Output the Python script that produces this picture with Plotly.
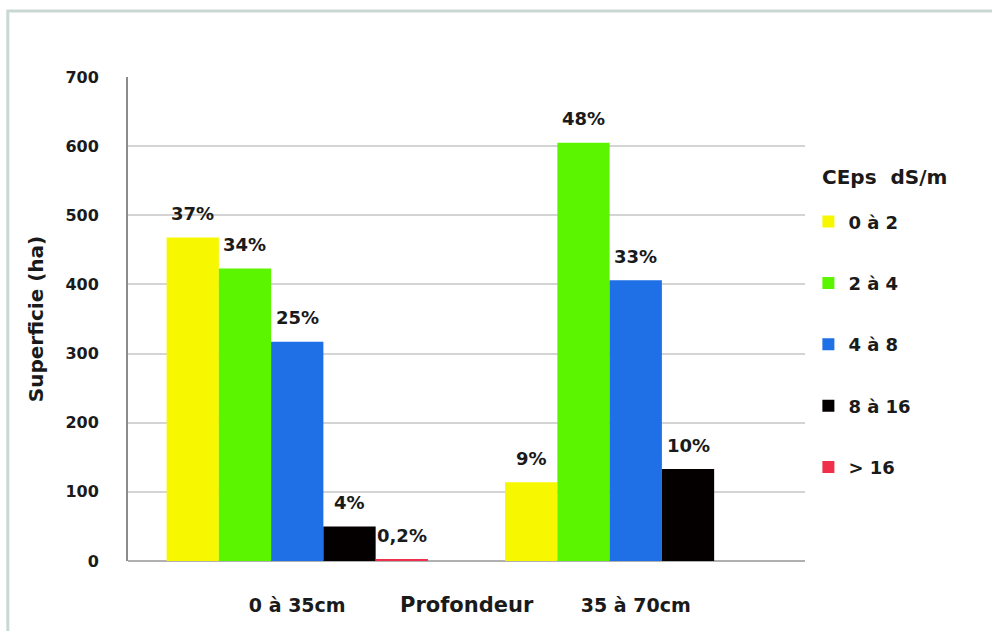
import plotly.graph_objects as go

# Depth classes and conductivity classes
profondeurs = ["0 à 35cm", "35 à 70cm"]
classes = ["0 à 2", "2 à 4", "4 à 8", "8 à 16", "> 16"]
couleurs = ["#f7f700", "#5cf500", "#1f6fe6", "#050000", "#f0304a"]

# Area (ha) per class for each depth
sup_0_2 = [468, 114]
sup_2_4 = [423, 605]
sup_4_8 = [317, 406]
sup_8_16 = [50, 133]
sup_16 = [2.5, 0]
surfaces = [sup_0_2, sup_2_4, sup_4_8, sup_8_16, sup_16]

# Share of total area per class for each depth
pct_0_2 = ["37%", "9%"]
pct_2_4 = ["34%", "48%"]
pct_4_8 = ["25%", "33%"]
pct_8_16 = ["4%", "10%"]
pct_16 = ["0,2%", ""]
parts = [pct_0_2, pct_2_4, pct_4_8, pct_8_16, pct_16]

FONT = "DejaVu Sans"
INK = "#1a1a1a"
BARGAP = 0.228

fig = go.Figure()
for nom, col, ys in zip(classes, couleurs, surfaces):
    fig.add_trace(go.Bar(
        x=profondeurs, y=ys, name=nom, legendgroup=nom,
        marker=dict(color=col, line=dict(width=0)),
        hoverinfo="x+y+name",
    ))

# Percentage labels above each bar, placed at the bar's slot within its group
n = len(classes)
slot = (1 - BARGAP) / n
labels = []
for i, (ys, txt) in enumerate(zip(surfaces, parts)):
    for ci, (v, t) in enumerate(zip(ys, txt)):
        if not t:
            continue
        labels.append(dict(
            text=t, x=ci - (1 - BARGAP) / 2 + (i + 0.5) * slot, y=v,
            xref="x", yref="y", showarrow=False, yanchor="middle", yshift=24,
            font=dict(family=FONT, size=18, color=INK, weight="bold"),
        ))

# Axis title written between the two depth labels
labels.append(dict(
    text="Profondeur", xref="paper", yref="paper", x=0.5, y=0,
    yshift=-44, xanchor="center", yanchor="middle", showarrow=False,
    font=dict(family=FONT, size=21, color=INK, weight="bold"),
))

# Legend heading
labels.append(dict(
    text="CEps  dS/m", xref="paper", yref="paper", x=1.0, y=1,
    xshift=691 - 676, yshift=-100, xanchor="left", yanchor="middle", showarrow=False,
    font=dict(family=FONT, size=20, color=INK, weight="bold"),
))

fig.update_layout(
    width=992, height=631,
    margin=dict(l=128, r=187, t=77, b=70),
    paper_bgcolor="white", plot_bgcolor="white",
    barmode="group", bargap=BARGAP, bargroupgap=0,
    showlegend=True,
    legend=dict(
        x=1.005, y=0.739, xanchor="left", yanchor="top",
        font=dict(family=FONT, size=18, color=INK, weight="bold"),
        tracegroupgap=35, itemwidth=30, bgcolor="rgba(0,0,0,0)",
    ),
    xaxis=dict(
        showgrid=False, showline=False, ticks="",
        tickfont=dict(family=FONT, size=19, color=INK, weight="bold"),
        ticklabelstandoff=31,
    ),
    yaxis=dict(
        range=[0, 700], dtick=100, showgrid=True, gridcolor="#d4d4d4", gridwidth=2,
        showline=True, linecolor="#8c8c8c", linewidth=2, zeroline=True,
        zerolinecolor="#b0b0b0", zerolinewidth=2,
        tickfont=dict(family=FONT, size=16, color=INK, weight="bold"),
        ticklabelstandoff=24,
        title=dict(text="Superficie (ha)", standoff=16,
                   font=dict(family=FONT, size=20, color=INK, weight="bold")),
    ),
    annotations=labels,
    shapes=[dict(
        type="rect", xref="paper", yref="paper",
        x0=-120 / 676, x1=1.3, y0=-0.3, y1=1 + 66 / 484,
        line=dict(color="#cad8d4", width=3), fillcolor="rgba(0,0,0,0)", layer="below",
    )],
)

fig.write_html("out.html")
